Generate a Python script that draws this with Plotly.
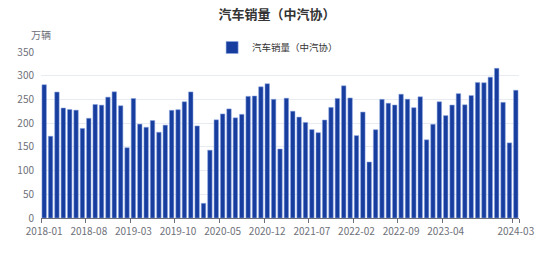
import plotly.graph_objects as go

months = [f"{y}-{m:02d}" for y in range(2018, 2025) for m in range(1, 13)][:75]

sales = [
    281.0, 172.4, 265.6, 231.9, 228.8, 227.4, 188.9, 210.3, 239.4, 238.0, 254.8, 266.1,
    236.7, 148.2, 252.0, 198.0, 191.3, 205.6, 180.8, 195.8, 227.1, 228.4, 245.1, 265.8,
    194.1, 31.0, 143.0, 207.0, 219.4, 230.0, 211.2, 218.6, 256.5, 257.3, 276.6, 283.1,
    250.3, 145.5, 252.6, 225.2, 212.8, 201.5, 186.4, 179.9, 206.7, 233.2, 252.1, 278.6,
    253.1, 173.7, 223.4, 118.1, 186.2, 250.2, 242.0, 238.3, 261.0, 250.5, 232.6, 255.6,
    164.9, 197.6, 245.1, 215.9, 238.2, 262.2, 238.7, 258.2, 285.8, 285.3, 297.0, 315.6,
    243.9, 158.4, 269.4,
]

tick_labels = ["2018-01", "2018-08", "2019-03", "2019-10", "2020-05", "2020-12",
               "2021-07", "2022-02", "2022-09", "2023-04", "2024-03"]

series_name = "汽车销量（中汽协）"
title_text = "汽车销量（中汽协）"
y_unit = "万辆"
y_ticks = [0, 50, 100, 150, 200, 250, 300, 350]

FONT = "Noto Sans CJK SC"

fig = go.Figure()
fig.add_trace(go.Bar(
    x=months, y=sales, name=series_name,
    marker=dict(color="#173d9e", line=dict(color="rgba(140,165,225,0.9)", width=0.6)),
    showlegend=True,
))

fig.update_layout(
    width=554, height=256,
    margin=dict(l=41, r=35, t=52, b=38, autoexpand=False),
    paper_bgcolor="white", plot_bgcolor="white",
    bargap=0.3,
    font=dict(family=FONT, size=10, color="#6e7079"),
    title=dict(text=f"<b>{title_text}</b>", x=0.5, xanchor="center", y=1 - 10 / 256, yanchor="top",
               yref="container",
               font=dict(family=FONT, size=13, color="#333333")),
    legend=dict(orientation="h", x=0.495, xanchor="center", y=1 - 33 / 256, yref="container",
                yanchor="top", font=dict(family=FONT, size=9.5, color="#333333"),
                bgcolor="rgba(0,0,0,0)", itemwidth=30),
    xaxis=dict(
        type="category", tickmode="array", tickvals=tick_labels, ticktext=tick_labels,
        ticks="outside", ticklen=4, tickcolor="#6e7079", tickson="boundaries",
        tickangle=0, automargin=False, ticklabelstandoff=4,
        showline=True, linecolor="#6e7079", linewidth=1, showgrid=False,
        tickfont=dict(family=FONT, size=10, color="#6e7079"),
        range=[-0.5, len(months) - 0.5],
    ),
    yaxis=dict(
        range=[0, 350], tickvals=y_ticks, showgrid=True, gridcolor="#e8ebf2",
        zeroline=False, showline=False, ticks="", ticklabelstandoff=6, automargin=False,
        tickfont=dict(family=FONT, size=10, color="#6e7079"),
    ),
    annotations=[dict(text=y_unit, xref="paper", yref="paper", x=0.0, y=1.0,
                      yshift=8, xanchor="center", yanchor="bottom", showarrow=False,
                      font=dict(family=FONT, size=10, color="#6e7079"))],
)

fig.write_html("out.html")
